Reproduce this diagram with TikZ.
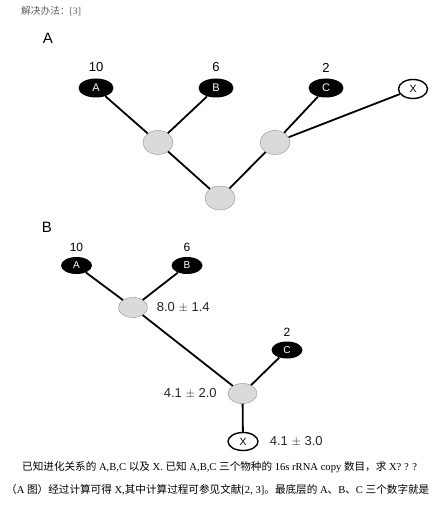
\documentclass[tikz,border=0pt]{standalone}
\usepackage{fontspec}
\setmainfont{Liberation Serif}
\setsansfont{Liberation Sans}
\newfontfamily\cjk{Noto Sans CJK SC}
\usetikzlibrary{shapes.geometric, positioning}
\definecolor{nodegray}{RGB}{218,218,218}
\definecolor{rimgray}{RGB}{145,145,145}
\definecolor{textgray}{RGB}{95,95,95}
\tikzstyle{leaf} = [ellipse, fill=black, text=white, minimum width=35pt, minimum height=19pt, inner sep=0pt, font=\sffamily\fontsize{11}{11}\selectfont]
\tikzstyle{inner} = [ellipse, draw=rimgray, fill=nodegray, minimum width=30pt, minimum height=24pt, inner sep=0pt]
\tikzstyle{target} = [ellipse, draw, line width=1.4pt, fill=white, minimum width=29pt, minimum height=19pt, inner sep=0pt, font=\sffamily\fontsize{10.5}{10.5}\selectfont]
\tikzstyle{branch} = [line width=1.8pt]
\tikzstyle{count} = [inner sep=0pt, font=\sffamily\fontsize{13}{13}\selectfont]
\tikzstyle{estimate} = [inner sep=0pt, text=black!85, font=\sffamily\fontsize{13}{13}\selectfont]
\tikzstyle{panel} = [inner sep=0pt, font=\sffamily\fontsize{15}{15}\selectfont]

\begin{document}
\begin{tikzpicture}[x=1pt, y=-1pt, node distance=7pt]
\useasboundingbox[fill=white] (0,0) rectangle (436,510);

\node[anchor=west, inner sep=0pt, text=textgray, font=\fontsize{9.7}{9.7}\selectfont] (head) at (21,11) {{\cjk 解决办法：}[3]};

% panel A
\node[panel] (labA) at (48,38) {A};
\node[leaf] (a1) at (96,88) {A};
\node[leaf] (b1) at (216,88) {B};
\node[leaf] (c1) at (326,88) {C};
\node[target] (x1) at (413,89) {X};
\node[inner] (ab1) at (158,142.5) {};
\node[inner] (cx1) at (275,142.5) {};
\node[inner] (root1) at (220,198) {};
\node[count, above=6pt of a1] (na1) {10};
\node[count, above=6pt of b1] (nb1) {6};
\node[count, above=6pt of c1] (nc1) {2};

\draw[branch] (a1) -- (ab1);
\draw[branch] (b1) -- (ab1);
\draw[branch] (ab1) -- (root1);
\draw[branch] (root1) -- (cx1);
\draw[branch] (cx1) -- (c1);
\draw[branch] (cx1) -- (x1);

% panel B
\node[panel] (labB) at (47,227) {B};
\node[leaf, minimum width=31pt, minimum height=17pt, font=\sffamily\fontsize{10}{10}\selectfont] (a2) at (76.5,265.5) {A};
\node[leaf, minimum width=31pt, minimum height=17pt, font=\sffamily\fontsize{10}{10}\selectfont] (b2) at (187,265.5) {B};
\node[leaf, minimum width=31pt, minimum height=17pt, font=\sffamily\fontsize{10}{10}\selectfont] (c2) at (287,350) {C};
\node[inner, minimum width=29pt, minimum height=20pt] (ab2) at (133,307.5) {};
\node[inner, minimum width=29pt, minimum height=20pt] (abc2) at (242.5,393.5) {};
\node[target, minimum width=30pt, minimum height=18pt] (x2) at (243,441.5) {X};
\node[count, font=\sffamily\fontsize{12}{12}\selectfont, above=5pt of a2] (na2) {10};
\node[count, font=\sffamily\fontsize{12}{12}\selectfont, above=5pt of b2] (nb2) {6};
\node[count, font=\sffamily\fontsize{12}{12}\selectfont, above=5pt of c2] (nc2) {2};
\node[estimate, right=9pt of ab2] (eab) {8.0 $\pm$ 1.4};
\node[estimate, left=11pt of abc2] (eabc) {4.1 $\pm$ 2.0};
\node[estimate, right=11pt of x2] (ex) {4.1 $\pm$ 3.0};

\draw[branch] (a2) -- (ab2);
\draw[branch] (b2) -- (ab2);
\draw[branch] (ab2) -- (abc2);
\draw[branch] (c2) -- (abc2);
\draw[branch] (abc2) -- (x2);

% text below
\node[anchor=west, inner sep=0pt, font=\fontsize{10.6}{10.6}\selectfont] (line1) at (22,467)
  {{\cjk 已知进化关系的} A,B,C {\cjk 以及} X. {\cjk 已知} A,B,C {\cjk 三个物种的} 16s rRNA copy {\cjk 数目，求} X? ? ?};
\node[anchor=west, inner sep=0pt, font=\fontsize{10.6}{10.6}\selectfont] (line2) at (6,490)
  {{\cjk （}A {\cjk 图）经过计算可得} X,{\cjk 其中计算过程可参见文献}[2, 3]{\cjk 。最底层的} A{\cjk 、}B{\cjk 、}C {\cjk 三个数字就是}};
\end{tikzpicture}
\end{document}
